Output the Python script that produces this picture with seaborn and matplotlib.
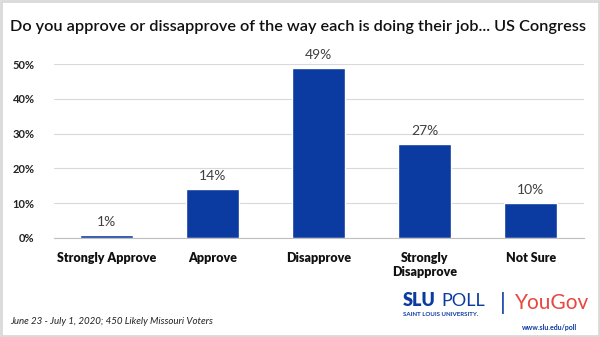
import matplotlib
matplotlib.use("Agg")
import matplotlib.pyplot as plt
import seaborn as sns
import pandas as pd
from matplotlib.patches import Rectangle

categories = ["Strongly Approve", "Approve", "Disapprove", "Strongly\nDisapprove", "Not Sure"]
values = [1, 14, 49, 27, 10]
yticks = [0, 10, 20, 30, 40, 50]
ytick_labels = ["0%", "10%", "20%", "30%", "40%", "50%"]

sns.set_theme(style="white")
plt.rcParams['font.family'] = ['Lato', 'DejaVu Sans']

df = pd.DataFrame({"cat": categories, "val": values})

fig = plt.figure(figsize=(6, 3.37), dpi=100)
ax = fig.add_axes([0.09, 0.2938, 0.883, 0.516])
sns.barplot(data=df, x="cat", y="val", color="#0B3AA0", saturation=1, width=0.5, ax=ax)
ax.set_ylim(0, 50)
ax.set_yticks(yticks)
ax.set_yticklabels(ytick_labels, fontsize=8, fontweight="bold", color="#222222")
ax.set_xlabel("")
ax.set_ylabel("")
ax.tick_params(axis="x", labelsize=9, length=0, pad=10)
for lab in ax.get_xticklabels():
    lab.set_fontweight("heavy")
    lab.set_color("#111111")
    lab.set_verticalalignment("top")
ax.tick_params(axis="y", length=0, pad=14)
ax.grid(axis="y", color="#d9d9d9", linewidth=0.8)
ax.set_axisbelow(True)
for s in ["top", "right", "left"]:
    ax.spines[s].set_visible(False)
ax.spines["bottom"].set_color("#bfbfbf")
ax.spines["bottom"].set_linewidth(0.8)

for i, v in enumerate(values):
    ax.annotate(f"{v}%", (i, v), xytext=(0, 5), textcoords="offset points",
                ha="center", va="bottom", fontsize=10, color="#404040")

fig.text(0.017, 0.92, "Do you approve or dissapprove of the way each is doing their job... US Congress",
         fontsize=11.7, fontweight="semibold", color="#111111", ha="left", va="center")
fig.text(0.017, 0.045, "June 23 - July 1, 2020; 450 Likely Missouri Voters",
         fontsize=7, style="italic", color="#222222", ha="left", va="center")

# logo block
fig.text(0.672, 0.107, "SLU", fontsize=13, fontweight="heavy", color="#0B3AA0", ha="left", va="center")
fig.text(0.735, 0.107, "POLL", fontsize=13, color="#0B3AA0", ha="left", va="center")
fig.text(0.672, 0.066, "SAINT LOUIS UNIVERSITY.", fontsize=4.4, fontweight="bold", color="#0B3AA0", ha="left", va="center")
fig.text(0.838, 0.10, "|", fontsize=17, color="#0B3AA0", ha="center", va="center")
fig.text(0.858, 0.10, "YouGov", fontsize=15, color="#E8473F", ha="left", va="center")
fig.text(0.962, 0.027, "www.slu.edu/poll", fontsize=5, fontweight="bold", color="#0B3AA0", ha="right", va="center")

fig.patches.append(Rectangle((0.002, 0.003), 0.996, 0.994, transform=fig.transFigure,
                             fill=False, edgecolor="#d9d9d9", linewidth=2))

fig.savefig("out.png", dpi=100)
